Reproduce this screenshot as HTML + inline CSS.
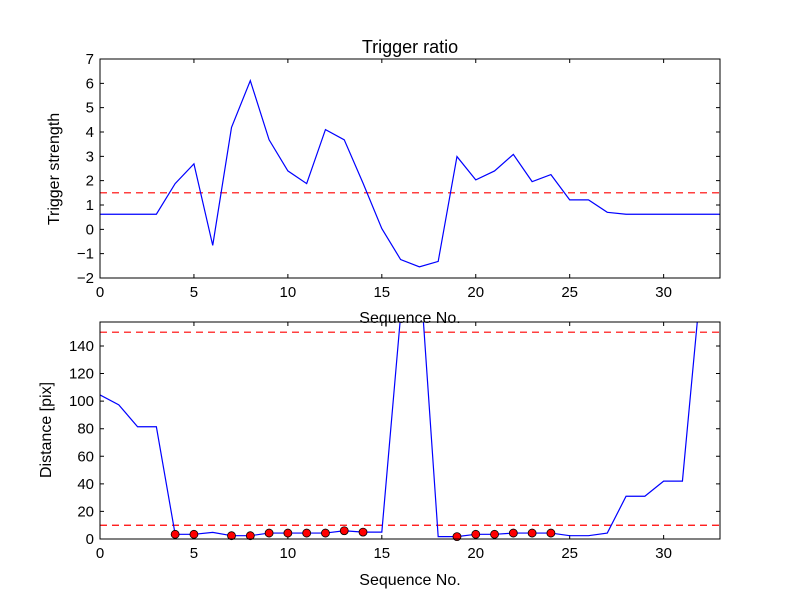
<!DOCTYPE html>
<html><head><meta charset="utf-8"><style>
body{margin:0;background:#fff}
svg{display:block;font-family:"Liberation Sans",sans-serif}
</style></head><body>
<svg id="chart" width="800" height="600" xmlns="http://www.w3.org/2000/svg">
<rect width="800" height="600" fill="#fff"/>
</svg>
<script>
const seq = [0,1,2,3,4,5,6,7,8,9,10,11,12,13,14,15,16,17,18,19,20,21,22,23,24,25,26,27,28,29,30,31,32,33];
const strength = [0.62,0.62,0.62,0.62,1.88,2.69,-0.66,4.19,6.11,3.68,2.4,1.88,4.1,3.68,1.9,0.03,-1.24,-1.54,-1.32,2.99,2.03,2.4,3.08,1.96,2.25,1.21,1.21,0.7,0.62,0.62,0.62,0.62,0.62,0.62];
const distance = [104.5,97.3,81.4,81.4,3.4,3.4,4.8,2.4,2.4,4.3,4.3,4.3,4.3,6,5,5,162,200,1.7,1.7,3.4,3.4,4.3,4.3,4.3,2.4,2.4,4.3,31,31,42,42,188,188];
const markerIdx = [4,5,7,8,9,10,11,12,13,14,19,20,21,22,23,24];
const strengthThreshold = 1.5;
const distThresholds = [150,10];
const topYTicks = [-2,-1,0,1,2,3,4,5,6,7];
const botYTicks = [0,20,40,60,80,100,120,140];
const xTicks = [0,5,10,15,20,25,30];

const svg = document.getElementById('chart');
const NS = 'http://www.w3.org/2000/svg';
function mk(tag, attrs, parent){const e=document.createElementNS(NS,tag);for(const k in attrs)e.setAttribute(k,attrs[k]);(parent||svg).appendChild(e);return e;}

const X0=100,X1=720;
const xs = v => X0 + (v-0)/(33-0)*(X1-X0);

function panel(top,bot,ymin,ymax,yt,name){
  const ys = v => bot - (v-ymin)/(ymax-ymin)*(bot-top);
  const g = mk('g',{});
  
  
  const clipId = name+'-clip';
  const cp = mk('clipPath',{id:clipId},g);
  mk('rect',{x:X0,y:top,width:X1-X0,height:bot-top},cp);
  xTicks.forEach(t=>{
    const x=xs(t);
    const tk=mk('path',{d:`M${x} ${bot}v-4M${x} ${top}v4`,stroke:'#000','stroke-width':1},g);
    
    
    const lb=mk('text',{x:x,y:bot+19,'text-anchor':'middle','font-size':15},g);
    lb.textContent=t;
    
    
  });
  yt.forEach(t=>{
    const y=ys(t);
    const tk=mk('path',{d:`M${X0} ${y}h4M${X1} ${y}h-4`,stroke:'#000','stroke-width':1},g);
    
    
    const lb=mk('text',{x:X0-6,y:y+5,'text-anchor':'end','font-size':15},g);
    lb.textContent=String(t).replace('-','\u2212');
    
    
  });
  return {g,ys,clipId};
}

const P1 = panel(59,278,-2,7,topYTicks,'strength-panel');
const th1 = mk('line',{x1:X0,x2:X1,y1:P1.ys(strengthThreshold),y2:P1.ys(strengthThreshold),stroke:'#f00','stroke-width':1.2,'stroke-dasharray':'7,5'},P1.g);


const l1 = mk('polyline',{points:seq.map((s,i)=>xs(s)+','+P1.ys(strength[i])).join(' '),fill:'none',stroke:'#00f','stroke-width':1.2,'clip-path':`url(#${P1.clipId})`},P1.g);


const f1 = mk('rect',{x:X0,y:59,width:X1-X0,height:219,fill:'none',stroke:'#000','stroke-width':1},P1.g);



const P2 = panel(322,539,0,157.4,botYTicks,'distance-panel');
distThresholds.forEach(v=>{
  const t=mk('line',{x1:X0,x2:X1,y1:P2.ys(v),y2:P2.ys(v),stroke:'#f00','stroke-width':1.2,'stroke-dasharray':'7,5'},P2.g);
  
  
});
const l2 = mk('polyline',{points:seq.map((s,i)=>xs(s)+','+P2.ys(distance[i])).join(' '),fill:'none',stroke:'#00f','stroke-width':1.2,'clip-path':`url(#${P2.clipId})`},P2.g);


markerIdx.forEach(i=>{
  const c=mk('circle',{cx:xs(seq[i]),cy:P2.ys(distance[i]),r:4,fill:'#f00',stroke:'#000','stroke-width':0.8},P2.g);
  
  
});
const f2 = mk('rect',{x:X0,y:322,width:X1-X0,height:217,fill:'none',stroke:'#000','stroke-width':1},P2.g);



function txt(s,attrs,name){const t=mk('text',attrs);t.textContent=s;return t;}
txt('Trigger ratio',{x:410,y:53,'text-anchor':'middle','font-size':18},'chart-title');
txt('Sequence No.',{x:410,y:323,'text-anchor':'middle','font-size':16},'top-x-axis-title');
txt('Sequence No.',{x:410,y:585,'text-anchor':'middle','font-size':16},'bottom-x-axis-title');
txt('Trigger strength',{x:0,y:0,'text-anchor':'middle','font-size':16,transform:'translate(59,169) rotate(-90)'},'top-y-axis-title');
txt('Distance [pix]',{x:0,y:0,'text-anchor':'middle','font-size':16,transform:'translate(51,430) rotate(-90)'},'bottom-y-axis-title');
</script>
</body></html>
